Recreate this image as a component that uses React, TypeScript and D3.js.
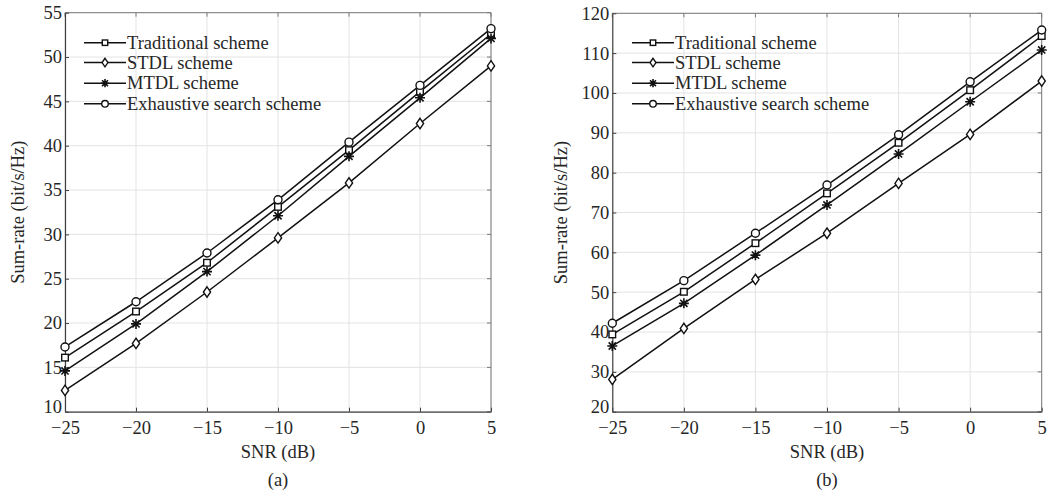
import React, { useEffect, useRef } from "react";
import * as d3 from "d3";

const snr = [-25, -20, -15, -10, -5, 0, 5];
const seriesNames = ["Traditional scheme", "STDL scheme", "MTDL scheme", "Exhaustive search scheme"];
const markers = ["square", "diamond", "star", "circle"];

// panel (a)
const tradA = [16.1, 21.3, 26.8, 33.1, 39.5, 46.1, 52.6];
const stdlA = [12.4, 17.7, 23.5, 29.6, 35.8, 42.5, 49.0];
const mtdlA = [14.6, 19.9, 25.8, 32.1, 38.8, 45.4, 52.1];
const exhA = [17.3, 22.4, 27.9, 33.9, 40.4, 46.8, 53.2];

// panel (b)
const tradB = [39.4, 50.1, 62.3, 74.8, 87.5, 100.7, 114.3];
const stdlB = [28.1, 40.9, 53.2, 64.8, 77.3, 89.6, 103.0];
const mtdlB = [36.5, 47.2, 59.3, 71.9, 84.7, 97.8, 110.8];
const exhB = [42.2, 52.9, 64.8, 76.9, 89.5, 102.8, 115.8];

const yTicksA = [10, 15, 20, 25, 30, 35, 40, 45, 50, 55];
const yTicksB = [20, 30, 40, 50, 60, 70, 80, 90, 100, 110, 120];
const xTicks = [-25, -20, -15, -10, -5, 0, 5];

const FONT = "Liberation Serif, Times New Roman, Times, serif";
const TXT = "#262626";
const FS = 18.5;

function drawMarker(g: any, type: string, x: number, y: number, s: number) {
  if (type === "circle") {
    g.append("circle").attr("cx", x).attr("cy", y).attr("r", 4 * s)
      .attr("fill", "white").attr("stroke", "#111").attr("stroke-width", 1.4);
  } else if (type === "square") {
    const h = 3.3 * s;
    g.append("rect").attr("x", x - h).attr("y", y - h).attr("width", 2 * h).attr("height", 2 * h)
      .attr("fill", "white").attr("stroke", "#111").attr("stroke-width", 1.4);
  } else if (type === "diamond") {
    const w = 3.6 * s, h = 5.2 * s;
    g.append("path").attr("d", `M${x},${y - h}L${x + w},${y}L${x},${y + h}L${x - w},${y}Z`)
      .attr("fill", "white").attr("stroke", "#111").attr("stroke-width", 1.4);
  } else {
    const r = 5 * s, d = r * 0.72;
    g.append("path")
      .attr("d", `M${x - r},${y}L${x + r},${y}M${x},${y - r}L${x},${y + r}M${x - d},${y - d}L${x + d},${y + d}M${x - d},${y + d}L${x + d},${y - d}`)
      .attr("stroke", "#111").attr("stroke-width", 1.6).attr("fill", "none");
  }
}

function drawPanel(svg: any, opts: any) {
  const { left, right, top, bottom, yDomain, yTicks, data, caption, legendX, labelOffset } = opts;
  const x = d3.scaleLinear().domain([-25, 5]).range([left, right]);
  const y = d3.scaleLinear().domain(yDomain).range([bottom, top]);
  const g = svg.append("g");

  // grid
  g.selectAll(".gx").data(xTicks).enter().append("line")
    .attr("x1", (d: number) => x(d)).attr("x2", (d: number) => x(d))
    .attr("y1", top).attr("y2", bottom).attr("stroke", "#e3e3e3").attr("stroke-width", 1);
  g.selectAll(".gy").data(yTicks).enter().append("line")
    .attr("x1", left).attr("x2", right)
    .attr("y1", (d: number) => y(d)).attr("y2", (d: number) => y(d))
    .attr("stroke", "#e3e3e3").attr("stroke-width", 1);

  // box top/right
  g.append("path").attr("d", `M${left},${top}H${right}V${bottom}`)
    .attr("fill", "none").attr("stroke", "#7a7a7a").attr("stroke-width", 1);
  xTicks.forEach((t) => {
    g.append("line").attr("x1", x(t)).attr("x2", x(t)).attr("y1", top).attr("y2", top + 4).attr("stroke", "#7a7a7a");
  });
  yTicks.forEach((t: number) => {
    g.append("line").attr("x1", right).attr("x2", right - 4).attr("y1", y(t)).attr("y2", y(t)).attr("stroke", "#7a7a7a");
  });

  // axes
  const xa = g.append("g").attr("transform", `translate(0,${bottom})`)
    .call(d3.axisBottom(x).tickValues(xTicks).tickSizeInner(-4).tickSizeOuter(0).tickPadding(9)
      .tickFormat((d: any) => (d < 0 ? "\u2212" + Math.abs(d) : String(d))));
  const ya = g.append("g").attr("transform", `translate(${left},0)`)
    .call(d3.axisLeft(y).tickValues(yTicks).tickSizeInner(-4).tickSizeOuter(0).tickPadding(3));
  [xa, ya].forEach((a) => {
    a.attr("font-family", FONT).attr("font-size", FS);
    a.select(".domain").attr("stroke", "#404040").attr("stroke-width", 1.2);
    a.selectAll(".tick line").attr("stroke", "#404040");
    a.selectAll("text").attr("font-family", FONT).attr("font-size", FS).attr("fill", TXT);
  });
  // lift the lowest y label so it clears the first x label
  ya.selectAll(".tick text").filter((d: number) => d === yDomain[0]).attr("dy", "0.05em");

  // lines
  const line = d3.line<number>().x((_d, i) => x(snr[i])).y((d) => y(d));
  data.forEach((vals: number[], si: number) => {
    g.append("path").attr("d", line(vals)).attr("fill", "none").attr("stroke", "#111").attr("stroke-width", 1.5);
    vals.forEach((v, i) => drawMarker(g, markers[si], x(snr[i]), y(v), 1));
  });

  // legend
  const rows = [42.7, 62.6, 83.2, 103.8];
  seriesNames.forEach((n, i) => {
    const ly = rows[i];
    g.append("line").attr("x1", legendX).attr("x2", legendX + 42).attr("y1", ly).attr("y2", ly)
      .attr("stroke", "#111").attr("stroke-width", 1.5);
    drawMarker(g, markers[i], legendX + 21, ly, 0.82);
    g.append("text").attr("x", legendX + 43).attr("y", ly + 6).text(n)
      .attr("font-family", FONT).attr("font-size", FS).attr("fill", TXT);
  });

  // labels
  g.append("text").attr("x", (left + right) / 2).attr("y", 458).attr("text-anchor", "middle")
    .attr("font-family", FONT).attr("font-size", FS).attr("fill", TXT).text("SNR (dB)");
  g.append("text").attr("x", (left + right) / 2).attr("y", 486).attr("text-anchor", "middle")
    .attr("font-family", FONT).attr("font-size", FS).attr("fill", TXT).text(caption);
  g.append("text").attr("transform", `translate(${left - labelOffset},${(top + bottom) / 2}) rotate(-90)`)
    .attr("text-anchor", "middle")
    .attr("font-family", FONT).attr("font-size", FS).attr("fill", TXT).text("Sum-rate (bit/s/Hz)");
}

export default function App() {
  const ref = useRef<SVGSVGElement>(null);

  useEffect(() => {
    const svg = d3.select(ref.current);
    svg.selectAll("*").remove();
    drawPanel(svg, {
      left: 65, right: 491, top: 12.7, bottom: 411.7,
      yDomain: [10, 55], yTicks: yTicksA,
      data: [tradA, stdlA, mtdlA, exhA], caption: "(a)", legendX: 84, labelOffset: 41,
    });
    drawPanel(svg, {
      left: 612.3, right: 1041.7, top: 13.3, bottom: 411.7,
      yDomain: [20, 120], yTicks: yTicksB,
      data: [tradB, stdlB, mtdlB, exhB], caption: "(b)", legendX: 632, labelOffset: 45,
    });
  }, []);

  return (
    <svg ref={ref} width={1056} height={498}
      style={{ position: "absolute", left: 0, top: 0, background: "white" }} />
  );
}
